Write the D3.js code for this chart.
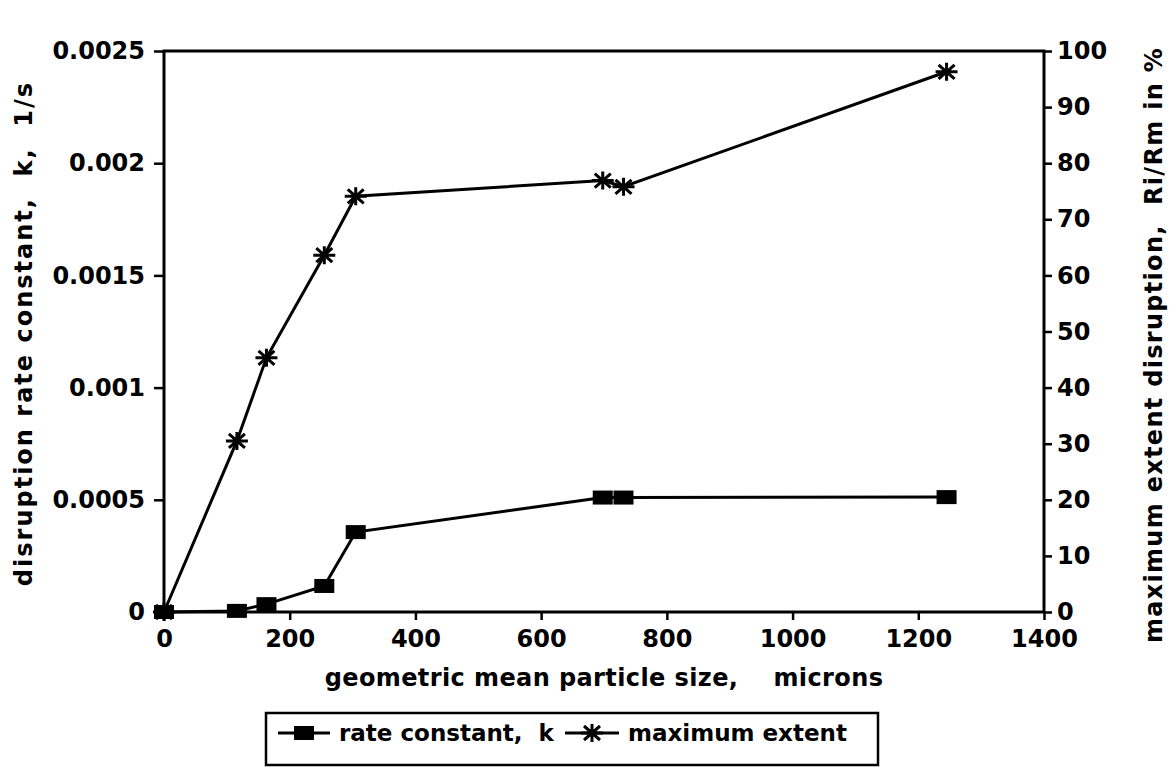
<!DOCTYPE html>
<html>
<head>
<meta charset="utf-8">
<script src="https://cdn.jsdelivr.net/npm/d3@7"></script>
<style>
  body { margin: 0; background: #fff; }
  text { font-family: "DejaVu Sans", sans-serif; font-weight: bold; fill: #000; }
</style>
</head>
<body>
<script>
// particle size (microns)
var sizes = [0, 116, 163, 255, 305, 698, 731, 1245];
// rate constant k, 1/s
var rateK = [0, 0.000005, 0.000035, 0.000116, 0.000356, 0.00051, 0.00051, 0.000512];
// maximum extent disruption, %
var maxExtent = [0, 30.5, 45.3, 63.6, 74.1, 76.9, 75.8, 96.3];

var xTicks = [0, 200, 400, 600, 800, 1000, 1200, 1400];
var kTicks = [0, 0.0005, 0.001, 0.0015, 0.002, 0.0025];
var kTickLabels = ["0", "0.0005", "0.001", "0.0015", "0.002", "0.0025"];
var pctTicks = [0, 10, 20, 30, 40, 50, 60, 70, 80, 90, 100];

var width = 1170, height = 767;
var pLeft = 164, pRight = 1044, pTop = 51, pBottom = 612;

var svg = d3.select("body").append("svg")
    .attr("width", width)
    .attr("height", height);

var x = d3.scaleLinear().domain([0, 1400]).range([pLeft, pRight]);
var yK = d3.scaleLinear().domain([0, 0.0025]).range([pBottom, pTop]);
var yP = d3.scaleLinear().domain([0, 100]).range([pBottom, pTop]);

// frame
svg.append("rect")
    .attr("x", pLeft).attr("y", pTop)
    .attr("width", pRight - pLeft).attr("height", pBottom - pTop)
    .attr("fill", "none").attr("stroke", "#000").attr("stroke-width", 3);

function styleAxis(g) {
  g.select(".domain").remove();
  g.selectAll("line").attr("stroke", "#000").attr("stroke-width", 2.5);
  g.selectAll("text").attr("font-size", 24).attr("font-family", "DejaVu Sans").attr("font-weight", "bold");
}

svg.append("g")
    .attr("transform", "translate(0," + pBottom + ")")
    .call(d3.axisBottom(x).tickValues(xTicks).tickSize(8).tickPadding(10).tickFormat(d3.format("d")))
    .call(styleAxis);

svg.append("g")
    .attr("transform", "translate(" + pLeft + ",0)")
    .call(d3.axisLeft(yK).tickValues(kTicks).tickSize(10).tickPadding(9)
      .tickFormat(function(d, i) { return kTickLabels[i]; }))
    .call(styleAxis);

svg.append("g")
    .attr("transform", "translate(" + pRight + ",0)")
    .call(d3.axisRight(yP).tickValues(pctTicks).tickSize(8).tickPadding(5))
    .call(styleAxis);

// lines
var pts = sizes.map(function(s, i) { return {x: s, k: rateK[i], p: maxExtent[i]}; });

svg.append("path")
    .datum(pts)
    .attr("fill", "none").attr("stroke", "#000").attr("stroke-width", 3)
    .attr("d", d3.line().x(function(d) { return x(d.x); }).y(function(d) { return yK(d.k); }));

svg.append("path")
    .datum(pts)
    .attr("fill", "none").attr("stroke", "#000").attr("stroke-width", 3)
    .attr("d", d3.line().x(function(d) { return x(d.x); }).y(function(d) { return yP(d.p); }));

function square(g, cx, cy) {
  g.append("rect").attr("x", cx - 10).attr("y", cy - 7).attr("width", 20).attr("height", 14).attr("fill", "#000");
}
function star(g, cx, cy) {
  var r = 11;
  g.append("path")
    .attr("d", "M" + (cx - r) + "," + cy + "H" + (cx + r) +
               "M" + (cx - 8) + "," + (cy - 7) + "L" + (cx + 8) + "," + (cy + 7) +
               "M" + (cx - 8) + "," + (cy + 7) + "L" + (cx + 8) + "," + (cy - 7) +
               "M" + cx + "," + (cy - 9) + "V" + (cy + 9))
    .attr("stroke", "#000").attr("stroke-width", 3).attr("fill", "none");
}

var marks = svg.append("g");
pts.forEach(function(d) {
  square(marks, x(d.x), yK(d.k));
  star(marks, x(d.x), yP(d.p));
});

// axis titles
svg.append("text")
    .attr("x", (pLeft + pRight) / 2).attr("y", 686)
    .attr("text-anchor", "middle").attr("font-size", 24)
    .attr("letter-spacing", 0.4)
    .attr("xml:space", "preserve")
    .text("geometric mean particle size,    microns");

svg.append("text")
    .attr("transform", "translate(32," + ((pTop + pBottom) / 2 + 2) + ") rotate(-90)")
    .attr("text-anchor", "middle").attr("font-size", 24)
    .attr("letter-spacing", 2)
    .attr("xml:space", "preserve")
    .text("disruption rate constant,  k,  1/s");

svg.append("text")
    .attr("transform", "translate(1162,345) rotate(-90)")
    .attr("text-anchor", "middle").attr("font-size", 24)
    .attr("letter-spacing", 1.3)
    .attr("xml:space", "preserve")
    .text("maximum extent disruption,  Ri/Rm in %");

// legend
var lg = svg.append("g");
lg.append("rect")
    .attr("x", 266).attr("y", 713).attr("width", 612).attr("height", 52)
    .attr("fill", "none").attr("stroke", "#000").attr("stroke-width", 2.5);
lg.append("line").attr("x1", 278).attr("x2", 330).attr("y1", 733).attr("y2", 733)
    .attr("stroke", "#000").attr("stroke-width", 3);
square(lg, 304, 733);
lg.append("text").attr("x", 339).attr("y", 741).attr("font-size", 23)
    .attr("xml:space", "preserve").text("rate constant,  k");
lg.append("line").attr("x1", 565).attr("x2", 619).attr("y1", 733).attr("y2", 733)
    .attr("stroke", "#000").attr("stroke-width", 3);
star(lg, 592, 733);
lg.append("text").attr("x", 628).attr("y", 741).attr("font-size", 23)
    .text("maximum extent");
</script>
</body>
</html>
